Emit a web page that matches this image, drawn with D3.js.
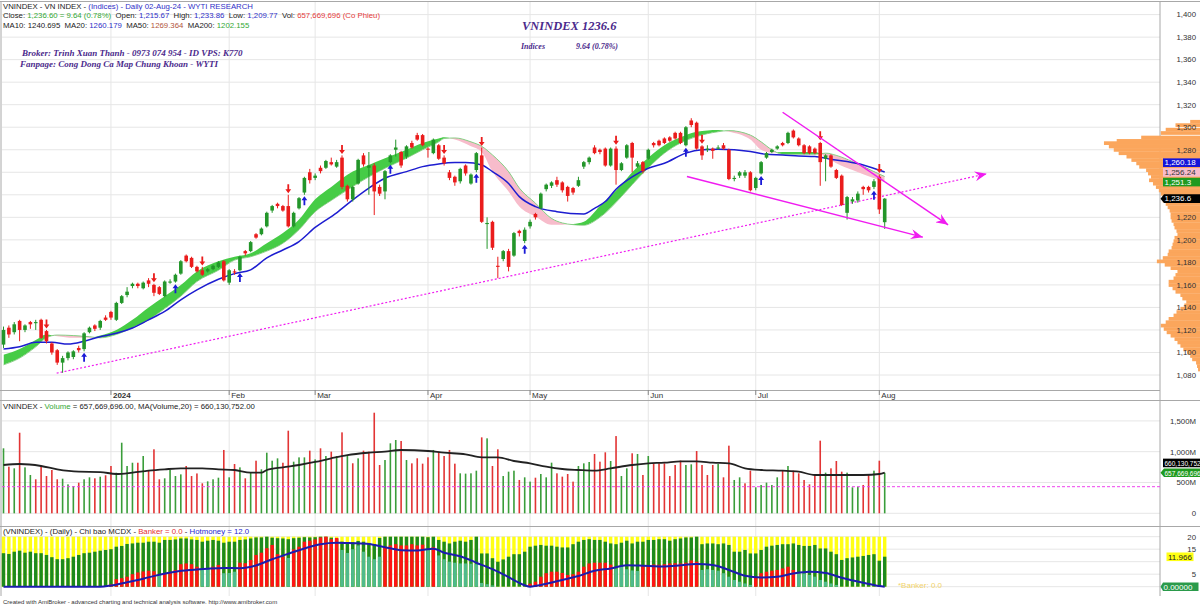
<!DOCTYPE html>
<html>
<head>
<meta charset="utf-8">
<script src="https://cdn.jsdelivr.net/npm/d3@7/dist/d3.min.js"></script>
<style>
  body { margin: 0; background: #fff; }
  svg { display: block; font-family: Arial, "Liberation Sans", sans-serif; }
</style>
</head>
<body>
<svg id="chart" width="1200" height="606"></svg>
<script>
// Daily bars, early Dec 2023 -> 02-Aug-24 (bar index 0..164)
const open = [1107,1122,1118,1128,1120,1127,1126,1129,1119,1108,
  1102,1091,1095,1096,1104,1103,1118,1124,1122,1131,
  1136,1129,1144,1151,1159,1161,1157,1164,1160,1158,
  1150,1162,1163,1170,1186,1184,1176,1173,1172,1174,
  1176,1181,1162,1172,1173,1190,1190,1205,1205,1212,
  1226,1232,1230,1230,1212,1228,1242,1260,1255,1264,
  1264,1269,1265,1273,1248,1236,1250,1275,1264,1266,
  1247,1243,1269,1280,1278,1274,1286,1293,1293,1281,
  1277,1284,1273,1260,1256,1252,1266,1250,1262,1275,
  1214,1216,1177,1183,1190,1186,1208,1199,1212,1223,
  1228,1245,1248,1253,1251,1247,1246,1248,1265,1269,
  1282,1280,1281,1266,1281,1262,1273,1286,1265,1269,
  1272,1286,1288,1290,1291,1295,1295,1284,1306,1304,
  1283,1280,1281,1281,1284,1280,1254,1257,1257,1260,
  1246,1259,1273,1278,1281,1286,1286,1297,1290,1284,
  1283,1281,1286,1272,1275,1262,1257,1224,1234,1235,
  1247,1247,1247,1256,1215.67];
const high = [1123,1124,1127,1129,1125,1128,1129,1130,1120,1109,
  1103,1097,1101,1102,1106,1118,1123,1125,1129,1133,
  1137,1145,1151,1158,1162,1162,1163,1166,1161,1159,
  1164,1165,1170,1182,1187,1185,1177,1176,1175,1178,
  1181,1182,1174,1174,1186,1191,1199,1206,1211,1225,
  1231,1233,1231,1240,1225,1238,1256,1263,1259,1266,
  1271,1273,1271,1275,1249,1248,1272,1277,1278,1268,
  1249,1262,1276,1289,1279,1284,1288,1295,1294,1282,
  1290,1285,1275,1262,1257,1264,1267,1259,1278,1282,
  1220,1217,1185,1191,1192,1207,1209,1211,1218,1224,
  1242,1250,1252,1256,1252,1248,1247,1256,1270,1274,
  1284,1281,1282,1282,1283,1269,1285,1287,1270,1270,
  1281,1287,1289,1291,1292,1296,1296,1301,1308,1305,
  1284,1284,1282,1284,1286,1281,1257,1261,1262,1261,
  1256,1270,1278,1281,1284,1287,1296,1298,1291,1285,
  1284,1282,1287,1276,1276,1263,1258,1239,1238,1243,
  1248,1248,1254,1258,1237];
const low = [1104,1113,1116,1110,1118,1121,1120,1112,1108,1098,
  1089,1082,1093,1094,1100,1101,1117,1119,1120,1128,
  1129,1128,1143,1149,1157,1157,1156,1158,1150,1151,
  1149,1161,1162,1169,1180,1175,1171,1168,1171,1173,
  1175,1163,1160,1169,1172,1186,1189,1201,1204,1211,
  1224,1228,1225,1211,1211,1227,1240,1250,1253,1259,
  1263,1266,1264,1245,1234,1234,1249,1265,1240,1222,
  1239,1236,1268,1274,1264,1272,1281,1288,1283,1273,
  1276,1271,1266,1253,1248,1250,1257,1249,1260,1215,
  1192,1191,1166,1181,1172,1185,1203,1197,1210,1218,
  1227,1243,1246,1247,1242,1234,1240,1247,1263,1267,
  1276,1276,1265,1265,1249,1261,1272,1260,1264,1259,
  1271,1282,1283,1285,1287,1289,1285,1283,1300,1280,
  1271,1278,1272,1280,1280,1253,1252,1255,1255,1243,
  1244,1258,1272,1277,1280,1283,1285,1290,1283,1276,
  1276,1276,1248,1252,1264,1254,1230,1218,1232,1233,
  1240,1242,1245,1223,1209.77];
const close = [1120,1116,1125,1120,1124,1125,1127,1113,1110,1100,
  1091,1095,1100,1101,1102,1117,1122,1121,1128,1129,
  1131,1144,1150,1154,1161,1159,1162,1161,1153,1152,
  1163,1163,1169,1181,1181,1176,1172,1169,1174,1177,
  1180,1164,1173,1171,1185,1188,1198,1202,1210,1224,
  1230,1230,1226,1212,1224,1237,1255,1253,1257,1261,
  1270,1267,1269,1247,1236,1247,1271,1267,1266,1243,
  1241,1261,1275,1282,1266,1283,1282,1289,1284,1280,
  1289,1272,1268,1255,1251,1263,1259,1258,1277,1216,
  1215,1193,1176,1190,1176,1206,1206,1209,1216,1220,
  1241,1249,1251,1249,1244,1239,1242,1253,1269,1273,
  1277,1278,1266,1281,1262,1268,1284,1273,1268,1261,
  1280,1284,1284,1286,1288,1290,1286,1300,1302,1281,
  1275,1281,1279,1282,1281,1254,1255,1260,1260,1244,
  1255,1269,1277,1280,1283,1284,1295,1291,1284,1277,
  1277,1277,1269,1275,1265,1255,1231,1238,1236,1241,
  1245,1244,1252,1227,1236.6];

// Volume (millions) and up/down colour per bar
const volume = [1055,757,730,1308,746,622,552,768,605,703,
  552,562,470,443,497,552,584,568,594,617,
  768,659,1146,768,821,821,930,692,1039,552,
  568,703,605,632,768,605,647,487,519,552,
  578,1028,584,800,746,568,659,854,714,984,
  854,892,821,1341,838,908,908,1017,875,1055,
  930,1001,930,1314,946,812,892,1017,1001,1633,
  784,865,1136,1190,1174,865,811,893,806,909,
  1028,1000,930,1028,806,649,644,649,692,1233,
  1217,768,1039,605,676,692,541,584,514,578,
  638,584,822,649,595,638,514,768,811,833,
  963,838,990,849,1254,605,730,974,963,622,
  930,811,811,811,605,784,855,784,795,1011,
  784,622,784,800,584,1098,541,584,487,692,
  422,460,498,460,584,703,768,692,649,541,
  470,638,1179,660,730,849,676,660,422,432,
  460,622,692,854,657.67];
const volDir = "grgrggrrrr" + "rgggrggrgr" + "rggggrgrrr" + "ggggrrrrgg" + "grgrgrgrgg" +
  "ggrrgggrgr" + "grgrgrgrrr" + "rgggrgrrrr" + "grrrrggggr" + "grrgggrggr" +
  "gggrrrrggg" + "rrrgrggrgr" + "grrrrrrggr" + "rrrgrrggrr" + "gggggrgrrr" +
  "rrrgrrrggg" + "rrgrg";
const volMaIdx = [0,3,7,10,14,18,21,24,27,30,33,37,40,43,46,48,49,52,55,58,61,64,68,71,74,79,82,86,89,92,95,98,101,104,107,110,113,117,120,123,126,129,132,135,138,141,145,148,151,154,157,160,163,164];
const volMaVal = [784,800,768,714,676,670,638,660,692,714,730,730,714,703,660,660,703,746,784,833,893,946,984,1001,1028,1011,984,957,909,909,849,811,757,719,703,692,730,784,811,822,844,844,822,811,730,703,692,676,622,622,622,622,638,660.13];
const volRef = 432;

// MA20 (blue) read at sample bars
const ma20Idx = [0,3,6,9,12,15,18,21,24,27,30,33,36,40,43,46,49,52,55,58,62,65,68,71,75,78,81,84,86,89,91,94,96,99,103,108,110,112,114,117,120,123,127,130,133,136,139,142,145,148,151,154,157,160,164];
const ma20Val = [1103,1105,1109,1109,1107.5,1110,1114,1117,1121.7,1129,1136.4,1146.8,1155.6,1165,1170,1173.4,1184,1191,1198.5,1211,1224,1235.5,1246,1254.7,1260.6,1265,1267.4,1268.6,1268.6,1266.5,1260.6,1250,1238.4,1229.5,1225,1223,1228,1234,1245,1256,1263.6,1268,1277,1280,1280.5,1280,1278.4,1276,1275.4,1274.5,1274,1271.6,1269.5,1266.5,1260.18];

// Ribbon: fast and slow averages
const bandIdx = [0,3,6,8,10,13,16,18,21,24,27,30,33,36,40,43,46,49,52,55,58,61,65,68,71,75,78,81,82,84,87,89,91,94,96,99,102,104,106,108,111,115,117,120,123,126,129,133,135,139,141,143,145,151,153,155,158,162,164];
const bandFast = [1098,1103,1111,1116,1114.5,1113,1113,1115,1120,1129,1140,1150,1160,1172,1181,1185,1188,1197,1206,1218,1236,1247,1260.6,1266.5,1272.5,1280,1286,1290,1291,1289,1283,1278,1260.6,1243,1229.6,1220.7,1213.3,1213.5,1214,1216,1230,1249,1260,1273,1284,1291,1296,1297.6,1296,1289,1280,1277.5,1278,1278,1274,1268,1262,1254.7,1251.3];
const bandSlow = [1089,1095,1105,1113,1115.5,1115,1114,1113,1116,1122,1129,1139,1150,1163,1173,1182,1185,1190,1197,1209,1225,1235,1247.3,1256,1263.6,1272.5,1280,1287,1290,1290.5,1287,1283,1275.4,1260.6,1246,1232.6,1219,1215,1213.5,1213,1220,1238.4,1249,1264,1277,1286,1291.7,1296,1297,1293,1287,1280,1276,1276,1277,1275,1269.5,1260.6,1256.24];

// Signal arrows
const downIdx = [8,28,37,53,63,82,89,114,130,152,163];
const upIdx = [15,32,44,56,72,88,97,127,141,162];

// Hand drawn trend lines: [bar, price] -> [bar, price]
const trendDotted = [[9.9,1081.6],[183,1258.6]];
const trendUpper = [[145,1313.3],[175.8,1213.3]];
const trendLower = [[127.2,1256.2],[171.1,1202.4]];

// Volume-at-price profile (relative size)
const profPrice = [1305,1302,1298,1295,1291,1288,1286,1283,1280,1277,1274,1271,1268,1265,1262,1259,1256,1253,1250,1247,1244,1241,1238,1235,1232,1229,1226,1223,1220,1217,1214,1211,1208,1205,1202,1199,1196,1193,1190,1187,1184,1181,1178,1175,1172,1169,1166,1163,1160,1157,1154,1151,1148,1145,1142,1139,1136,1133,1130,1127,1124,1121,1118,1115,1112,1109,1106,1103,1100,1097,1094,1091,1088,1085];
const profVol = [10,25,35,40,60,85,98,93,88,83,75,70,65,62,55,53,50,52,48,45,42,40,38,38,35,33,31,30,30,29,27,26,24,23,26,27,28,29,32,33,38,44,36,30,23,25,27,32,32,28,25,20,18,14,16,20,24,27,32,35,40,37,34,30,26,23,20,17,13,10,8,4,3,2];

// MCDX: hot money (dark green), banker (red / teal) and banker average (blue)
const hotmoney = [13.4,13.1,14.0,14.4,13.6,14.0,13.4,13.4,12.7,11.8,
  11.0,11.0,11.4,12.0,12.7,13.4,13.6,14.0,14.4,14.7,
  15.0,16.0,16.3,17.1,17.3,17.6,17.6,18.0,18.0,17.6,
  18.7,18.7,18.9,19.3,19.3,18.9,18.7,18.0,18.4,18.7,
  18.4,17.6,18.0,18.0,18.7,18.9,19.3,19.7,19.7,20,
  19.6,19.4,19.3,19.0,19.4,19.6,19.8,19.7,19.8,20,
  20,19.6,19.2,18.0,17.4,17.8,18.3,18.0,17.5,17.0,
  19.5,20,20,20,20,20,20,20,20,19.8,
  20,18.7,18.0,17.3,18.0,18.4,18.0,18.7,20,13.3,
  13.3,11.4,10.0,10.9,12.0,13.0,13.0,14.0,16.0,16.4,
  16.7,16.4,16.4,16.0,15.7,15.7,17.0,18.0,18.7,19.0,
  18.7,18.7,18.0,17.3,17.0,17.6,18.4,17.3,18.0,18.0,
  18.7,18.7,19.0,19.0,18.4,19.0,19.3,19.7,19.7,20,
  17.0,17.3,17.3,17.0,17.3,16.7,14.0,14.0,14.7,13.3,
  13.3,14.7,16.0,16.4,16.7,17.0,17.0,17.3,16.7,16.3,
  16.3,16.7,15.3,15.3,14.0,13.0,10.7,11.4,11.7,12.0,
  12.3,12.7,13.0,10.4,12.0];
const banker = [0,0,0,0,0,0,0,0,0,0,
  0,0,0,0,0,0,0,0,0,0.3,
  1.0,3.0,3.4,4.0,5.0,5.7,6.1,6.4,6.2,4.7,
  5.4,6.0,6.7,9.0,9.3,9.0,8.0,7.3,7.0,8.0,
  8.7,5.4,5.5,6.0,9.6,9.4,10.7,12.7,13.6,15.4,
  16.7,13.0,12.0,11.5,14.9,16.0,18.0,18.4,18.9,19.7,
  20.0,19.0,19.5,14.7,13.5,15.0,16.5,14.0,12.0,11.0,
  12.0,16.0,16.5,17.0,16.5,16.5,17.0,16.5,16.8,15.0,
  15.8,12.5,11.0,10.0,9.6,9.3,9.3,9.2,9.0,1.5,
  1.0,0.5,0,0,0,0,0,0,1.2,2.0,
  4.0,5.4,6.0,6.0,5.5,4.7,5.0,6.0,8.0,9.3,
  9.6,9.6,9.6,8.8,7.3,8.0,7.0,6.5,6.3,8.5,
  8.7,8.9,8.8,9.0,9.3,9.4,9.3,9.6,10.5,10.0,
  6.7,7.0,6.7,6.4,5.4,4.0,2.7,2.0,1.3,0.7,
  4.0,5.4,6.0,6.4,6.7,7.3,8.0,6.7,5.3,5.3,
  4.7,4.0,2.7,2.0,1.3,0.7,0,0,0,0,
  0,0,0,0,0];
const bankerCol = "rrrrrrrrrr" + "rrrrrrrrrr" + "rrrrrrrrrt" + "rrrrrrrttr" + "rtttrrrrrr" +
  "rrrtrrrrrr" + "rrrttttttt" + "trrrrrrrrt" + "rttttttttt" + "ttrrrrrrrr" +
  "rrrrrrrrrr" + "rrrrtttttr" + "rrrrrrrrrr" + "tttttttttt" + "rrrrrrrrtt" +
  "ttttttrrrr" + "rrrrr";
const bankAvgIdx = [0,18,20,23,26,29,32,35,38,41,44,47,50,53,56,59,62,65,68,71,74,77,80,82,85,88,91,94,97,98,100,104,107,110,113,116,119,122,125,129,132,135,138,141,144,147,150,153,156,160,163,164];
const bankAvgVal = [0,0,0.5,1.8,3.2,4.8,6.0,6.7,7.2,7.5,7.4,8.5,11.0,13.2,15.3,17.0,17.6,17.4,17.1,15.8,14.6,14.5,15.2,13.6,12.2,9.6,7.0,3.8,0.6,0,0.7,2.7,4.3,6.4,7.3,8.6,8.4,8.1,8.4,9.1,8.7,6.7,4.4,3.7,4.0,5.3,6.0,5.5,3.6,1.6,0.3,0];

// Month boundaries
const monthLabels = ['2024','Feb','Mar','Apr','May','Jun','Jul','Aug'];
const monthIdx = [20,42,58,79,98,120,140,163];

// ---------------------------------------------------------------
const svg = d3.select('#chart');
const axisX = 1160;
const x = d3.scaleLinear().domain([0, 164]).range([3.5, 884.7]);
const yP = d3.scaleLinear().domain([1080, 1400]).range([375, 14.6]);
const yV = d3.scaleLinear().domain([0, 1500]).range([513.3, 420.9]);
const yM = d3.scaleLinear().domain([0, 20]).range([586.7, 536.7]);
const xProf = d3.scaleLinear().domain([0, 100]).range([1200, 1102]);
const bars = d3.range(open.length);

const GREEN = '#23962a', RED = '#ea1c1c', MAG = '#f01cf0';

// defs
const defs = svg.append('defs');
defs.append('marker').attr('id', 'arr').attr('markerUnits', 'userSpaceOnUse')
  .attr('markerWidth', 14).attr('markerHeight', 10).attr('refX', 12).attr('refY', 5)
  .attr('orient', 'auto')
  .append('path').attr('d', 'M0,0 L12,5 L0,10 L4,5 Z').attr('fill', MAG);

// grid
const grid = svg.append('g').attr('stroke', '#e6e6e6').attr('stroke-width', 1);
d3.range(1080, 1401, 20).forEach(v => {
  grid.append('line').attr('x1', 2).attr('x2', axisX).attr('y1', yP(v)).attr('y2', yP(v));
});
[0, 500, 1000, 1500].forEach(v => {
  grid.append('line').attr('x1', 2).attr('x2', axisX).attr('y1', yV(v)).attr('y2', yV(v));
});
[0, 5, 10, 15, 20].forEach(v => {
  grid.append('line').attr('x1', 2).attr('x2', axisX).attr('y1', yM(v)).attr('y2', yM(v));
});
monthIdx.forEach(i => {
  grid.append('line').attr('x1', x(i)).attr('x2', x(i)).attr('y1', 2).attr('y2', 596);
});

// frame lines
const frame = svg.append('g').attr('stroke', '#a8a8a8').attr('stroke-width', 1);
frame.append('line').attr('x1', 0).attr('x2', 1200).attr('y1', 1.5).attr('y2', 1.5);
frame.append('line').attr('x1', 1).attr('x2', 1).attr('y1', 1).attr('y2', 596);
frame.append('line').attr('x1', 0).attr('x2', axisX).attr('y1', 390.5).attr('y2', 390.5);
frame.append('line').attr('x1', 0).attr('x2', 1200).attr('y1', 400.5).attr('y2', 400.5);
frame.append('line').attr('x1', 0).attr('x2', 1200).attr('y1', 526.5).attr('y2', 526.5);
frame.append('line').attr('x1', axisX).attr('x2', axisX).attr('y1', 1).attr('y2', 596);
monthIdx.forEach(i => {
  frame.append('line').attr('x1', x(i)).attr('x2', x(i)).attr('y1', 390).attr('y2', 395).attr('stroke', '#888');
});

// date labels
svg.append('g').selectAll('text').data(monthLabels).join('text')
  .attr('x', (d, k) => x(monthIdx[k]) + 2).attr('y', 398)
  .attr('fill', '#333').style('font-size', '8px')
  .style('font-weight', (d, k) => k === 0 ? 'bold' : 'normal')
  .text(d => d);

// volume-at-price profile
svg.append('g').selectAll('rect').data(profPrice).join('rect')
  .attr('x', (d, k) => xProf(profVol[k]))
  .attr('width', (d, k) => 1200 - xProf(profVol[k]))
  .attr('y', d => yP(d + 1.5))
  .attr('height', d => yP(d - 1.5) - yP(d + 1.5) + 0.3)
  .attr('fill', '#fba65c');

// ribbon between the fast and slow averages
const band = bandIdx.map((i, k) => ({ i, f: bandFast[k], s: bandSlow[k] }));
const curve = d3.curveMonotoneX;
defs.append('clipPath').attr('id', 'cpUp').append('path')
  .attr('d', d3.area().x(d => x(d.i)).y0(0).y1(d => yP(d.s)).curve(curve)(band));
defs.append('clipPath').attr('id', 'cpDn').append('path')
  .attr('d', d3.area().x(d => x(d.i)).y0(d => yP(d.s)).y1(400).curve(curve)(band));
const bandArea = d3.area().x(d => x(d.i)).y0(d => yP(d.f)).y1(d => yP(d.s)).curve(curve);
svg.append('path').attr('d', bandArea(band)).attr('fill', '#46cc46').attr('clip-path', 'url(#cpUp)');
svg.append('path').attr('d', bandArea(band)).attr('fill', '#f7bccb').attr('clip-path', 'url(#cpDn)');
svg.append('path').attr('d', d3.line().x(d => x(d.i)).y(d => yP(d.s)).curve(curve)(band))
  .attr('fill', 'none').attr('stroke', '#72c872').attr('stroke-width', 0.8);

// MA20
svg.append('path')
  .attr('d', d3.line().x(d => x(d)).y((d, k) => yP(ma20Val[k])).curve(curve)(ma20Idx))
  .attr('fill', 'none').attr('stroke', '#1d1dd0').attr('stroke-width', 1.5);

// dotted support line
svg.append('line')
  .attr('x1', x(trendDotted[0][0])).attr('y1', yP(trendDotted[0][1]))
  .attr('x2', x(trendDotted[1][0])).attr('y2', yP(trendDotted[1][1]))
  .attr('stroke', MAG).attr('stroke-width', 1.2).attr('stroke-dasharray', '2,2')
  .attr('marker-end', 'url(#arr)');

// candles
const cg = svg.append('g');
bars.forEach(i => {
  const up = close[i] >= open[i];
  const col = up ? GREEN : RED;
  cg.append('line').attr('x1', x(i)).attr('x2', x(i))
    .attr('y1', yP(high[i])).attr('y2', yP(low[i])).attr('stroke', col).attr('stroke-width', 1);
  const top = yP(Math.max(open[i], close[i])), bot = yP(Math.min(open[i], close[i]));
  cg.append('rect').attr('x', x(i) - 1.8).attr('width', 3.6)
    .attr('y', top).attr('height', Math.max(1, bot - top)).attr('fill', col);
});

// signal arrows
downIdx.forEach(i => {
  const cx = x(i), ty = yP(high[i]) - 1.5;
  svg.append('path')
    .attr('d', `M${cx - 0.9},${ty - 9} h1.8 v5 h2 l-2.9,4 l-2.9,-4 h2 z`)
    .attr('fill', RED);
});
upIdx.forEach(i => {
  const cx = x(i), ty = yP(low[i]) + 1.5;
  svg.append('path')
    .attr('d', `M${cx},${ty} l2.9,4 h-2 v5 h-1.8 v-5 h-2 z`)
    .attr('fill', '#1a1ad6');
});

// solid trend lines
[trendUpper, trendLower].forEach(t => {
  svg.append('line')
    .attr('x1', x(t[0][0])).attr('y1', yP(t[0][1]))
    .attr('x2', x(t[1][0])).attr('y2', yP(t[1][1]))
    .attr('stroke', MAG).attr('stroke-width', 1.5).attr('marker-end', 'url(#arr)');
});

// volume panel
svg.append('g').selectAll('rect').data(bars).join('rect')
  .attr('x', i => x(i) - 0.8).attr('width', 1.6)
  .attr('y', i => yV(volume[i])).attr('height', i => yV(0) - yV(volume[i]))
  .attr('fill', i => volDir[i] === 'g' ? '#3a9d3a' : '#e23434');
svg.append('path')
  .attr('d', d3.line().x(d => x(d)).y((d, k) => yV(volMaVal[k])).curve(curve)(volMaIdx))
  .attr('fill', 'none').attr('stroke', '#222').attr('stroke-width', 1.8);
svg.append('line').attr('x1', 2).attr('x2', axisX).attr('y1', yV(volRef)).attr('y2', yV(volRef))
  .attr('stroke', '#ee44ee').attr('stroke-width', 1).attr('stroke-dasharray', '3,2');

// MCDX panel
const mg = svg.append('g');
bars.forEach(i => {
  const bx = x(i) - 1.7, bw = 3.4;
  mg.append('rect').attr('x', bx).attr('width', bw).attr('y', yM(20)).attr('height', yM(0) - yM(20)).attr('fill', '#ffff14');
  mg.append('rect').attr('x', bx).attr('width', bw).attr('y', yM(hotmoney[i])).attr('height', yM(0) - yM(hotmoney[i])).attr('fill', '#1d8a1d');
  if (banker[i] > 0) {
    mg.append('rect').attr('x', bx).attr('width', bw).attr('y', yM(banker[i]))
      .attr('height', yM(0) - yM(banker[i]))
      .attr('fill', bankerCol[i] === 'r' ? '#ff1414' : '#4fba8c');
  }
});
svg.append('path')
  .attr('d', d3.line().x(d => x(d)).y((d, k) => yM(bankAvgVal[k])).curve(curve)(bankAvgIdx))
  .attr('fill', 'none').attr('stroke', '#1c1cae').attr('stroke-width', 2);

// value tags on the axis (stacked so they do not overlap)
const priceTags = [
  { v: 1236.6, t: '1,236.6', bg: '#000', fg: '#fff', a: true },
  { v: 1251.3, t: '1,251.3', bg: '#1f9a1f', fg: '#fff' },
  { v: 1256.24, t: '1,256.24', bg: '#f7bccb', fg: '#333' },
  { v: 1260.18, t: '1,260.18', bg: '#1414d8', fg: '#fff' }
];
let lastY = 1e9;
priceTags.forEach(d => {
  let y = yP(d.v);
  if (y > lastY - 9.7) y = lastY - 9.7;
  lastY = y;
  d.y = y;
});
const otherTags = [
  { y: yV(657.67), t: '657,669,696', bg: '#1f9a1f', fg: '#fff', a: true, fs: 6.5 },
  { y: yV(660.13) - 9.7, t: '660,130,752', bg: '#000', fg: '#fff', fs: 6.5 },
  { y: yM(11.966), t: '11.966', bg: '#ffff14', fg: '#222', x0: 1166.5, x1: 1193.5 },
  { y: yM(0), t: '0.00000', bg: '#2a9a4a', fg: '#fff', a: true, x0: 1162, x1: 1198.5 }
];
const allTags = priceTags.concat(otherTags);
const hidden = y => allTags.some(d => Math.abs(d.y - y) < 7);

// right axis labels (labels that sit under a tag are covered in the original)
const ax = svg.append('g').attr('fill', '#333').style('font-size', '7.8px').attr('text-anchor', 'end');
d3.range(1080, 1401, 20).filter(v => !hidden(yP(v))).forEach(v => {
  ax.append('text').attr('x', 1196).attr('y', yP(v) + 2.8).text(d3.format(',')(v));
});
[[0, '0'], [500, '500M'], [1000, '1,000M'], [1500, '1,500M']].filter(d => !hidden(yV(d[0]))).forEach(([v, s]) => {
  ax.append('text').attr('x', 1196).attr('y', yV(v) + 2.8).text(s);
});
[5, 10, 15, 20].filter(v => !hidden(yM(v))).forEach(v => {
  ax.append('text').attr('x', 1196).attr('y', yM(v) + 2.8).text(v);
});

function tag(d) {
  const x0 = d.x0 || 1163, x1 = d.x1 || 1200, y = d.y;
  const h = 8.6, g = svg.append('g');
  if (d.a) {
    g.append('path').attr('d', `M${axisX + 0.5},${y} L${x0 + 1},${y - h / 2} L${x1},${y - h / 2} L${x1},${y + h / 2} L${x0 + 1},${y + h / 2} Z`).attr('fill', d.bg);
  } else {
    g.append('rect').attr('x', x0).attr('y', y - h / 2).attr('width', x1 - x0).attr('height', h).attr('fill', d.bg);
  }
  g.append('text').attr('x', x0 + 1.5).attr('y', y + 2.8).attr('fill', d.fg)
    .style('font-size', (d.fs || 8) + 'px').text(d.t);
}
allTags.forEach(tag);

// titles
function runs(x0, y0, parts, size, extra) {
  const t = svg.append('text').attr('x', x0).attr('y', y0)
    .style('font-size', size + 'px').style('white-space', 'pre');
  if (extra) extra(t);
  parts.forEach(([s, c]) => t.append('tspan').attr('fill', c).text(s));
  return t;
}
const BLUE = '#3030c8', BLK = '#222';
runs(3, 9.3, [['VNINDEX - VN INDEX - ', BLK], ['(Indices) - Daily 02-Aug-24 - WYTI RESEARCH', BLUE]], 7.8);
runs(3, 18.3, [['Close: ', BLK], ['1,236.60 = 9.64 (0.78%)', '#34a834'], ['  Open: ', BLK], ['1,215.67', BLUE],
  ['  High: ', BLK], ['1,233.86', BLUE], ['  Low: ', BLK], ['1,209.77', BLUE], ['  Vol: ', BLK], ['657,669,696 (Co Phieu)', '#e53b3b']], 7.8);
runs(3, 28, [['MA10: ', BLK], ['1240.695', BLK], ['  MA20: ', BLK], ['1260.179', BLUE], ['  MA50: ', BLK], ['1269.364', '#b2553a'],
  ['  MA200: ', BLK], ['1202.155', '#34a834']], 7.8);

const PURPLE = '#4b2a8c';
const serif = t => t.style('font-family', '"Liberation Serif", "DejaVu Serif", serif').style('font-style', 'italic').style('font-weight', 'bold');
runs(22, 56, [['Broker: Trinh Xuan Thanh - 0973 074 954 - ID VPS: K770', PURPLE]], 9, serif);
runs(20, 66.5, [['Fanpage: Cong Dong Ca Map Chung Khoan - WYTI', PURPLE]], 9, serif);
runs(522, 29.5, [['VNINDEX 1236.6', PURPLE]], 12.5, serif);
runs(521, 49, [['Indices', PURPLE]], 8, serif);
runs(576, 49, [['9.64 (0.78%)', PURPLE]], 8, serif);

runs(3, 408.5, [['VNINDEX - ', BLK], ['Volume', '#34a834'], [' = 657,669,696.00, MA(Volume,20) = 660,130,752.00', BLK]], 7.8);
runs(3, 534, [['(VNINDEX) - (Daily) - Chi bao MCDX - ', BLK], ['Banker = 0.0', '#e53030'], [' - ', BLK], ['Hotmoney = 12.0', '#2828d0']], 7.8);
runs(898, 587.5, [['*Banker: 0.0', '#f2d36a']], 8);
runs(3, 604, [['Created with AmiBroker - advanced charting and technical analysis software. http://www.amibroker.com', '#333']], 6);
</script>
</body>
</html>
